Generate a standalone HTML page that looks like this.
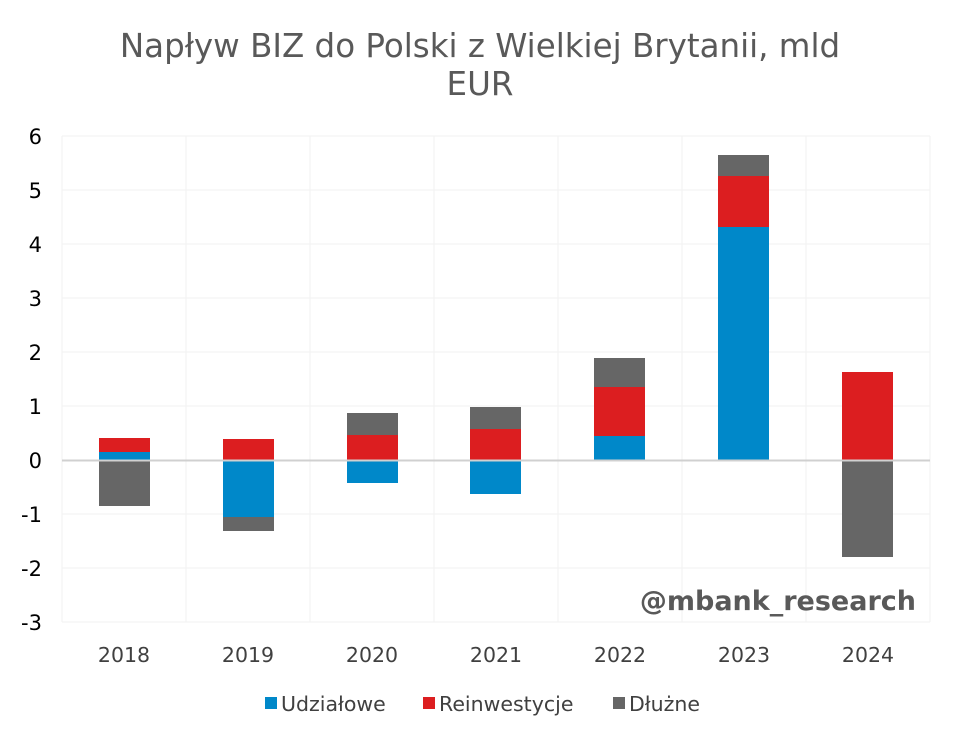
<!DOCTYPE html>
<html><head><meta charset="utf-8"><style>body{margin:0;background:#fff}svg{display:block}</style></head>
<body>
<svg width="960" height="742" xmlns="http://www.w3.org/2000/svg" font-family="'DejaVu Sans','Liberation Sans',sans-serif">
<rect width="960" height="742" fill="#fff"/>
<text x="480" y="57" text-anchor="middle" font-size="32.5" fill="#595959">Napływ BIZ do Polski z Wielkiej Brytanii, mld</text>
<text x="480" y="95" text-anchor="middle" font-size="32.5" fill="#595959">EUR</text>
<g stroke="#f2f2f2" stroke-width="1">
<line x1="62" y1="136" x2="930" y2="136"/><line x1="62" y1="190" x2="930" y2="190"/><line x1="62" y1="244" x2="930" y2="244"/><line x1="62" y1="298" x2="930" y2="298"/><line x1="62" y1="352" x2="930" y2="352"/><line x1="62" y1="406" x2="930" y2="406"/><line x1="62" y1="514" x2="930" y2="514"/><line x1="62" y1="568" x2="930" y2="568"/><line x1="62" y1="622" x2="930" y2="622"/>
<line x1="62" y1="136" x2="62" y2="622"/><line x1="186" y1="136" x2="186" y2="622"/><line x1="310" y1="136" x2="310" y2="622"/><line x1="434" y1="136" x2="434" y2="622"/><line x1="558" y1="136" x2="558" y2="622"/><line x1="682" y1="136" x2="682" y2="622"/><line x1="806" y1="136" x2="806" y2="622"/><line x1="930" y1="136" x2="930" y2="622"/>
</g>
<g font-size="21" fill="#000" text-anchor="end">
<text x="42" y="144">6</text><text x="42" y="198">5</text><text x="42" y="252">4</text><text x="42" y="306">3</text><text x="42" y="360">2</text><text x="42" y="414">1</text><text x="42" y="468">0</text><text x="42" y="522">-1</text><text x="42" y="576">-2</text><text x="42" y="630">-3</text>
</g>
<rect x="99" y="452" width="51" height="8" fill="#0088c9"/>
<rect x="99" y="438" width="51" height="14" fill="#dc1e20"/>
<rect x="99" y="461" width="51" height="45" fill="#666"/>
<rect x="223" y="439" width="51" height="21" fill="#dc1e20"/>
<rect x="223" y="461" width="51" height="56" fill="#0088c9"/>
<rect x="223" y="517" width="51" height="14" fill="#666"/>
<rect x="347" y="413" width="51" height="22" fill="#666"/>
<rect x="347" y="435" width="51" height="25" fill="#dc1e20"/>
<rect x="347" y="461" width="51" height="22" fill="#0088c9"/>
<rect x="470" y="407" width="51" height="22" fill="#666"/>
<rect x="470" y="429" width="51" height="31" fill="#dc1e20"/>
<rect x="470" y="461" width="51" height="33" fill="#0088c9"/>
<rect x="594" y="358" width="51" height="29" fill="#666"/>
<rect x="594" y="387" width="51" height="49" fill="#dc1e20"/>
<rect x="594" y="436" width="51" height="24" fill="#0088c9"/>
<rect x="718" y="155" width="51" height="21" fill="#666"/>
<rect x="718" y="176" width="51" height="51" fill="#dc1e20"/>
<rect x="718" y="227" width="51" height="233" fill="#0088c9"/>
<rect x="842" y="372" width="51" height="88" fill="#dc1e20"/>
<rect x="842" y="461" width="51" height="96" fill="#666"/>
<line x1="62" y1="460.5" x2="930" y2="460.5" stroke="#d0d0d0" stroke-width="2"/>
<text x="916" y="610" text-anchor="end" font-size="27" font-weight="bold" fill="#595959">@mbank_research</text>
<g font-size="20.5" fill="#404040" text-anchor="middle">
<text x="124" y="662">2018</text><text x="248" y="662">2019</text><text x="372" y="662">2020</text><text x="496" y="662">2021</text><text x="620" y="662">2022</text><text x="744" y="662">2023</text><text x="868" y="662">2024</text>
</g>
<g font-size="20.5" fill="#404040">
<rect x="265" y="697" width="12" height="12" fill="#0088c9"/><text x="281" y="711">Udziałowe</text>
<rect x="423" y="697" width="12" height="12" fill="#dc1e20"/><text x="439" y="711">Reinwestycje</text>
<rect x="613" y="697" width="12" height="12" fill="#666"/><text x="629" y="711">Dłużne</text>
</g>
</svg>
</body></html>
